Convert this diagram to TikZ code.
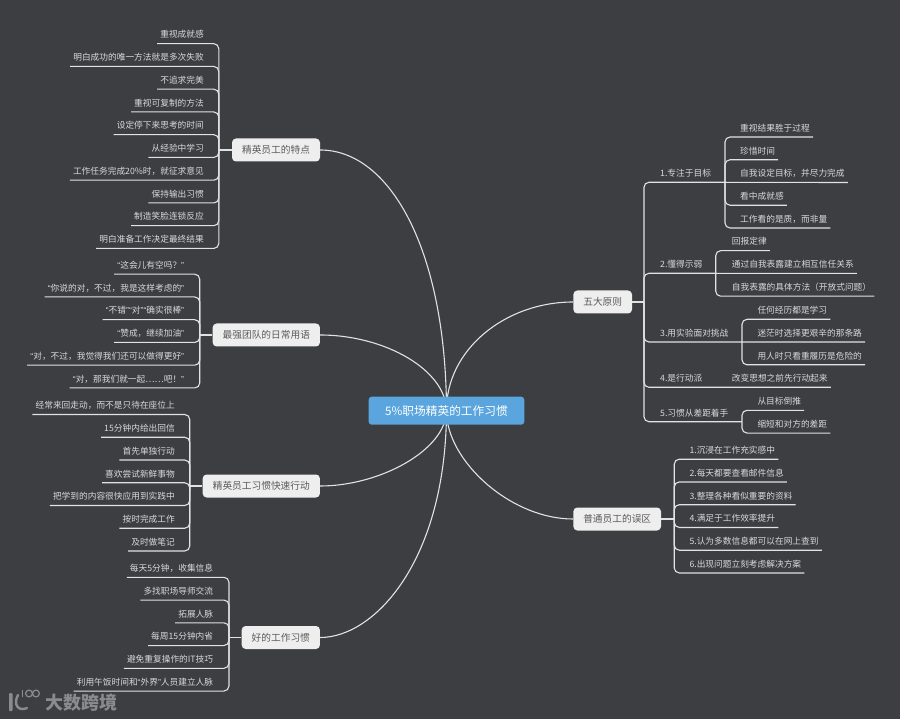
\documentclass[tikz,border=0pt]{standalone}
\usepackage{fontspec}
\setmainfont{Noto Sans CJK SC}
\newfontfamily\quotefont{Liberation Sans}
\newcommand{\ql}{{\quotefont “}}
\newcommand{\qr}{{\quotefont ”}}
\usetikzlibrary{positioning,backgrounds}
\definecolor{boardbg}{HTML}{3D3E42}
\definecolor{leaftxt}{HTML}{D9D9D9}
\definecolor{linkclr}{HTML}{E2E2E2}
\definecolor{mainfill}{HTML}{EEEEEE}
\definecolor{maintxt}{HTML}{5A5A5A}
\definecolor{rootfill}{HTML}{5AA5DD}
\definecolor{markclr}{HTML}{8A8B8D}

\begin{document}
\begin{tikzpicture}[
  x=1pt, y=-1pt,
  node distance=22.75pt,
  leaf/.style={text=leaftxt, font=\fontsize{8.7}{10}\selectfont, inner xsep=3pt, inner ysep=3pt,
               text height=8pt, text depth=2.5pt},
  lleaf/.style={leaf, anchor=south east},
  rleaf/.style={leaf, anchor=south west},
  mainbox/.style={fill=mainfill, text=maintxt, rounded corners=4pt, inner sep=0pt, minimum height=23pt,
                  font=\fontsize{9.7}{11}\selectfont},
  rootbox/.style={fill=rootfill, text=white, rounded corners=3pt, inner sep=0pt, minimum height=28pt,
                  minimum width=155.6pt, font=\fontsize{11.7}{13}\selectfont},
  link/.style={draw=linkclr, line width=1.1pt, rounded corners=5pt},
  curve/.style={draw=linkclr, line width=1.1pt}]
  \begin{scope}[on background layer]
    \fill[boardbg] (0,0) rectangle (900,719);
  \end{scope}

  \node[rootbox] (root) at (446.5,410.7) {5\%职场精英的工作习惯};

  % left branches
  \node[mainbox, minimum width=88pt] (te) at (276,150) {精英员工的特点};
  \coordinate[left=13pt of te.west] (jte);
  \node[lleaf] (te1) at (207,43.7) {重视成就感};
  \node[below=of te1.south east, lleaf] (te2) {明白成功的唯一方法就是多次失败};
  \node[below=of te2.south east, lleaf] (te3) {不追求完美};
  \node[below=of te3.south east, lleaf] (te4) {重视可复制的方法};
  \node[below=of te4.south east, lleaf] (te5) {设定停下来思考的时间};
  \node[below=of te5.south east, lleaf] (te6) {从经验中学习};
  \node[below=of te6.south east, lleaf] (te7) {工作任务完成20\%时，就征求意见};
  \node[below=of te7.south east, lleaf] (te8) {保持输出习惯};
  \node[below=of te8.south east, lleaf] (te9) {制造笑脸连锁反应};
  \node[below=of te9.south east, lleaf] (te10) {明白准备工作决定最终结果};
  \draw[link] (te.west) -- (jte);
  \foreach \i in {1,...,10} \draw[link] (te\i.south west) -| (jte);

  \node[mainbox, minimum width=107.3pt] (yu) at (266.3,335) {最强团队的日常用语};
  \coordinate[left=12.7pt of yu.west] (jyu);
  \node[lleaf] (yu1) at (187.3,274.2) {\ql 这会儿有空吗？\qr};
  \node[below=of yu1.south east, lleaf] (yu2) {\ql 你说的对，不过，我是这样考虑的\qr};
  \node[below=of yu2.south east, lleaf] (yu3) {\ql 不错\qr\ql 对\qr\ql 确实很棒\qr};
  \node[below=of yu3.south east, lleaf] (yu4) {\ql 赞成，继续加油\qr};
  \node[below=of yu4.south east, lleaf] (yu5) {\ql 对，不过，我觉得我们还可以做得更好\qr};
  \node[below=of yu5.south east, lleaf] (yu6) {\ql 对，那我们就一起……吧！\qr};
  \draw[link] (yu.west) -- (jyu);
  \foreach \i in {1,...,6} \draw[link] (yu\i.south west) -| (jyu);

  \node[mainbox, minimum width=117.3pt] (xd) at (261.3,486) {精英员工习惯快速行动};
  \coordinate[left=12.7pt of xd.west] (jxd);
  \node[lleaf] (xd1) at (178,414.5) {经常来回走动，而不是只待在座位上};
  \node[below=of xd1.south east, lleaf] (xd2) {15分钟内给出回信};
  \node[below=of xd2.south east, lleaf] (xd3) {首先单独行动};
  \node[below=of xd3.south east, lleaf] (xd4) {喜欢尝试新鲜事物};
  \node[below=of xd4.south east, lleaf] (xd5) {把学到的内容很快应用到实践中};
  \node[below=of xd5.south east, lleaf] (xd6) {按时完成工作};
  \node[below=of xd6.south east, lleaf] (xd7) {及时做笔记};
  \draw[link] (xd.west) -- (jxd);
  \foreach \i in {1,...,7} \draw[link] (xd\i.south west) -| (jxd);

  \node[mainbox, minimum width=78.3pt] (hb) at (280.8,637.5) {好的工作习惯};
  \coordinate[left=12.5pt of hb.west] (jhb);
  \node[lleaf] (hb1) at (216.3,577.3) {每天5分钟，收集信息};
  \node[below=of hb1.south east, lleaf] (hb2) {多找职场导师交流};
  \node[below=of hb2.south east, lleaf] (hb3) {拓展人脉};
  \node[below=of hb3.south east, lleaf] (hb4) {每周15分钟内省};
  \node[below=of hb4.south east, lleaf] (hb5) {避免重复操作的IT技巧};
  \node[below=of hb5.south east, lleaf] (hb6) {利用午饭时间和\ql 外界\qr 人员建立人脉};
  \draw[link] (hb.west) -- (jhb);
  \foreach \i in {1,...,6} \draw[link] (hb\i.south west) -| (jhb);

  % right branches
  \node[mainbox, minimum width=58.7pt] (yz) at (602.7,302) {五大原则};
  \coordinate[right=11.7pt of yz.east] (jyz);
  \draw[link] (yz.east) -- (jyz);

  \node[rleaf] (s1) at (657,182.3) {1.专注于目标};
  \coordinate (js1) at (725,182.3);
  \node[rleaf] (s1a) at (737,137) {重视结果胜于过程};
  \node[below=of s1a.south west, rleaf] (s1b) {珍惜时间};
  \node[below=of s1b.south west, rleaf] (s1c) {自我设定目标，并尽力完成};
  \node[below=of s1c.south west, rleaf] (s1d) {看中成就感};
  \node[below=of s1d.south west, rleaf] (s1e) {工作看的是质，而非量};
  \draw[link] (js1) -- (s1.south west) -| (jyz);
  \foreach \i in {a,b,d,e} \draw[link] (s1\i.south east) -| (js1);
  \draw[link] (s1c.south east) -- (js1);

  \node[rleaf] (s2) at (657,273.3) {2.懂得示弱};
  \coordinate (js2) at (715.7,273.3);
  \node[rleaf] (s2a) at (728.7,250.7) {回报定律};
  \node[below=of s2a.south west, rleaf] (s2b) {通过自我表露建立相互信任关系};
  \node[below=of s2b.south west, rleaf] (s2c) {自我表露的具体方法（开放式问题）};
  \draw[link] (js2) -- (s2.south west) -| (jyz);
  \foreach \i in {a,c} \draw[link] (s2\i.south east) -| (js2);
  \draw[link] (s2b.south east) -- (js2);

  \node[rleaf] (s3) at (657,342) {3.用实验面对挑战};
  \coordinate (js3) at (742,342);
  \node[rleaf] (s3a) at (754.3,319.3) {任何经历都是学习};
  \node[below=of s3a.south west, rleaf] (s3b) {迷茫时选择更艰辛的那条路};
  \node[below=of s3b.south west, rleaf] (s3c) {用人时只看重履历是危险的};
  \draw[link] (js3) -- (s3.south west) -| (jyz);
  \foreach \i in {a,c} \draw[link] (s3\i.south east) -| (js3);
  \draw[link] (s3b.south east) -- (js3);

  \node[rleaf] (s4) at (657,387.3) {4.是行动派};
  \node[rleaf] (s4a) at (728.7,387.3) {改变思想之前先行动起来};
  \draw[link] (s4a.south east) -- (s4.south west) -| (jyz);

  \node[rleaf] (s5) at (657,421.7) {5.习惯从差距着手};
  \coordinate (js5) at (742,421.7);
  \node[rleaf] (s5a) at (754.3,410.3) {从目标倒推};
  \node[below=of s5a.south west, rleaf] (s5b) {缩短和对方的差距};
  \draw[link] (js5) -- (s5.south west) -| (jyz);
  \foreach \i in {a,b} \draw[link] (s5\i.south east) -| (js5);

  \node[mainbox, minimum width=87.7pt] (wq) at (617.2,519) {普通员工的误区};
  \coordinate[right=13pt of wq.east] (jwq);
  \node[rleaf] (wq1) at (686.3,459.2) {1.沉浸在工作充实感中};
  \node[below=of wq1.south west, rleaf] (wq2) {2.每天都要查看邮件信息};
  \node[below=of wq2.south west, rleaf] (wq3) {3.整理各种看似重要的资料};
  \node[below=of wq3.south west, rleaf] (wq4) {4.满足于工作效率提升};
  \node[below=of wq4.south west, rleaf] (wq5) {5.认为多数信息都可以在网上查到};
  \node[below=of wq5.south west, rleaf] (wq6) {6.出现问题立刻考虑解决方案};
  \draw[link] (wq.east) -- (jwq);
  \foreach \i in {1,...,6} \draw[link] (wq\i.south east) -| (jwq);

  \begin{scope}[on background layer]
    \draw[curve] (te.east) .. controls (390,150) and (446,250) .. (root.center);
    \draw[curve] (yu.east) .. controls (385,335) and (446,370) .. (root.center);
    \draw[curve] (xd.east) .. controls (380,486) and (446,450) .. (root.center);
    \draw[curve] (hb.east) .. controls (375,637.5) and (446,560) .. (root.center);
    \draw[curve] (yz.west) .. controls (505,302) and (446,350) .. (root.center);
    \draw[curve] (wq.west) .. controls (510,519) and (446,460) .. (root.center);
  \end{scope}

  % watermark
  \node[text=markclr, font=\fontsize{18}{20}\bfseries, inner sep=0pt] (mark) at (81,702.5) {大数跨境};
  \fill[markclr, rounded corners=1pt] (9,693) rectangle (12.5,711);
  \draw[markclr, line width=2.4pt, line cap=round] (18,695) .. controls (13,704) and (18,712) .. (27,708);
  \draw[markclr, line width=1.2pt] (22.5,690) -- (22.5,697);
  \draw[markclr, line width=1.2pt] (29,693.5) circle (3.4) (36,693.5) circle (3.4);
\end{tikzpicture}
\end{document}
